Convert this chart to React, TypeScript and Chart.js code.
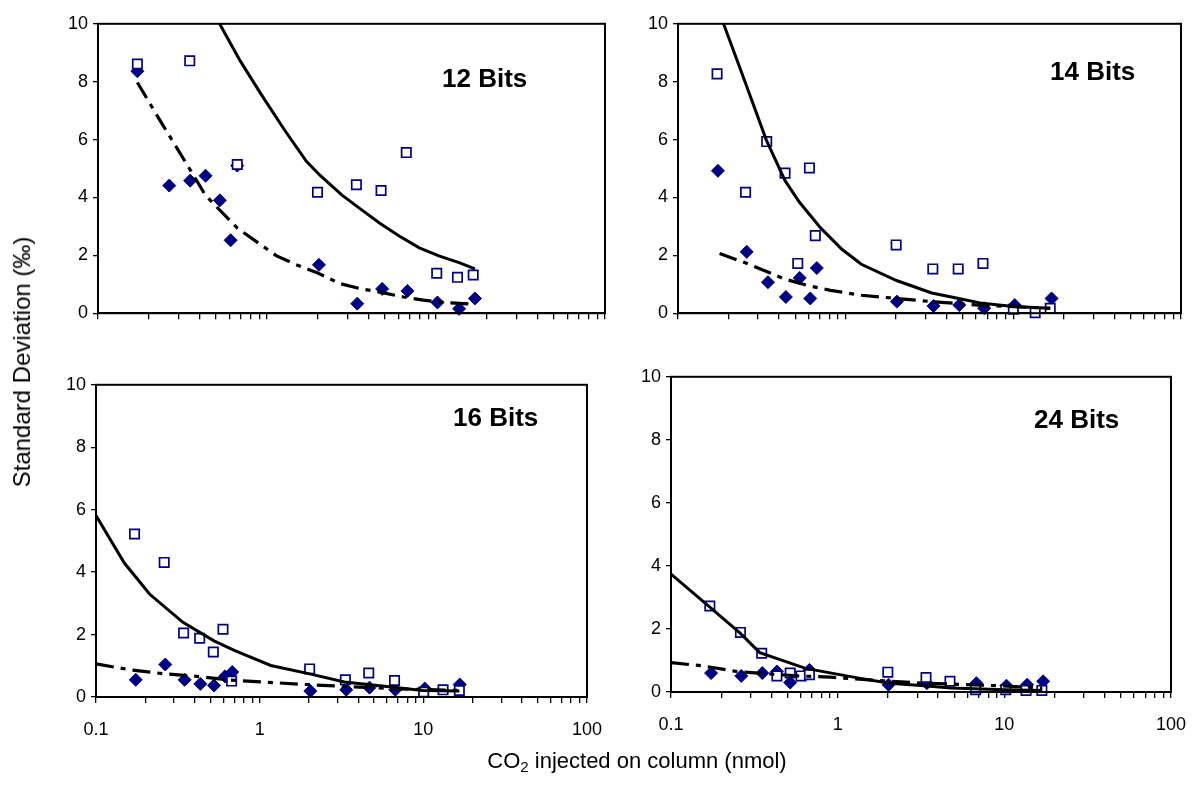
import React, { useEffect, useRef } from "react";
import { Chart, registerables } from "chart.js";

Chart.register(...registerables);

const NAVY = "#000080";
const FONT = "'Liberation Sans', Arial, sans-serif";

// ---------- shared axis values ----------
const X_TICKS = [
  0.1, 0.2, 0.3, 0.4, 0.5, 0.6, 0.7, 0.8, 0.9,
  1, 2, 3, 4, 5, 6, 7, 8, 9,
  10, 20, 30, 40, 50, 60, 70, 80, 90, 100,
];
const X_LABELS = [0.1, 1, 10, 100];
const Y_TICKS = [0, 2, 4, 6, 8, 10];

// ---------- 12 Bits ----------
const P12_SQ_X = [0.171, 0.349, 0.667, 1.99, 3.38, 4.73, 6.67, 10.1, 13.4, 16.6];
const P12_SQ_Y = [8.61, 8.72, 5.14, 4.18, 4.44, 4.24, 5.55, 1.38, 1.24, 1.32];
const P12_DI_X = [0.171, 0.264, 0.351, 0.433, 0.526, 0.609, 0.667, 2.03, 3.42, 4.8, 6.78, 10.2, 13.7, 17.0];
const P12_DI_Y = [8.36, 4.41, 4.58, 4.75, 3.9, 2.52, 5.1, 1.67, 0.33, 0.84, 0.77, 0.37, 0.15, 0.51];
const P12_SOLID_X = [0.524, 0.697, 0.922, 1.27, 1.71, 2.07, 2.79, 3.65, 4.65, 6.09, 7.97, 10.4, 13.7, 17.0];
const P12_SOLID_Y = [10, 8.7, 7.57, 6.33, 5.25, 4.75, 4.07, 3.56, 3.11, 2.66, 2.26, 1.98, 1.75, 1.53];
const P12_DASH_X = [0.171, 0.239, 0.331, 0.433, 0.667, 1.14, 1.47, 1.96, 2.71, 3.55, 4.65, 6.43, 8.41, 11.6, 16.1];
const P12_DASH_Y = [7.97, 6.55, 5.2, 4.07, 2.94, 1.98, 1.69, 1.41, 1.02, 0.85, 0.73, 0.56, 0.45, 0.36, 0.32];

// ---------- 14 Bits ----------
const P14_SQ_X = [0.171, 0.253, 0.338, 0.435, 0.608, 0.518, 0.659, 2.0, 3.31, 4.69, 6.59, 10.0, 13.5, 16.6];
const P14_SQ_Y = [8.27, 4.18, 5.93, 4.84, 5.02, 1.72, 2.68, 2.36, 1.53, 1.53, 1.72, 0.14, 0.02, 0.17];
const P14_DI_X = [0.173, 0.257, 0.344, 0.44, 0.532, 0.615, 0.673, 2.02, 3.34, 4.76, 6.7, 10.2, 16.9];
const P14_DI_Y = [4.92, 2.12, 1.07, 0.56, 1.22, 0.51, 1.56, 0.4, 0.25, 0.28, 0.17, 0.28, 0.51];
const P14_SOLID_X = [0.187, 0.25, 0.336, 0.435, 0.529, 0.711, 0.953, 1.24, 2.01, 3.26, 4.73, 6.52, 10.0, 16.6];
const P14_SOLID_Y = [10, 8.02, 5.99, 4.58, 3.84, 2.94, 2.2, 1.69, 1.13, 0.7, 0.51, 0.34, 0.23, 0.17];
const P14_DASH_X = [0.177, 0.25, 0.31, 0.428, 0.589, 0.813, 1.24, 2.01, 3.26, 6.18, 16.6];
const P14_DASH_Y = [2.06, 1.75, 1.53, 1.19, 0.96, 0.79, 0.62, 0.51, 0.4, 0.28, 0.17];

// ---------- 16 Bits ----------
const P16_SQ_X = [0.172, 0.261, 0.343, 0.43, 0.521, 0.597, 0.674, 2.02, 3.34, 4.64, 6.67, 10.05, 13.2, 16.6];
const P16_SQ_Y = [5.22, 4.31, 2.05, 1.88, 1.44, 2.17, 0.51, 0.9, 0.55, 0.77, 0.53, 0.16, 0.23, 0.21];
const P16_DI_X = [0.175, 0.265, 0.348, 0.434, 0.526, 0.613, 0.68, 2.04, 3.38, 4.69, 6.74, 10.2, 16.7];
const P16_DI_Y = [0.55, 1.04, 0.55, 0.42, 0.37, 0.66, 0.8, 0.19, 0.23, 0.3, 0.23, 0.27, 0.4];
const P16_SOLID_X = [0.1, 0.149, 0.213, 0.34, 0.526, 0.711, 1.17, 2.02, 3.3, 6.38, 9.89, 16.6];
const P16_SOLID_Y = [5.81, 4.29, 3.29, 2.39, 1.8, 1.48, 1.01, 0.74, 0.48, 0.32, 0.21, 0.19];
const P16_DASH_X = [0.1, 0.162, 0.265, 0.411, 0.638, 1.04, 1.91, 3.3, 6.38, 16.6];
const P16_DASH_Y = [1.06, 0.87, 0.74, 0.66, 0.55, 0.48, 0.4, 0.34, 0.27, 0.21];

// ---------- 24 Bits ----------
const P24_SQ_X = [0.171, 0.261, 0.35, 0.432, 0.519, 0.603, 0.677, 2.0, 3.39, 4.72, 6.73, 10.2, 13.5, 16.8];
const P24_SQ_Y = [2.73, 1.89, 1.23, 0.51, 0.6, 0.51, 0.55, 0.63, 0.46, 0.34, 0.07, 0.07, 0.05, 0.05];
const P24_DI_X = [0.174, 0.264, 0.353, 0.432, 0.519, 0.677, 2.02, 3.43, 6.8, 10.3, 13.7, 17.1];
const P24_DI_Y = [0.6, 0.51, 0.6, 0.65, 0.3, 0.7, 0.23, 0.28, 0.28, 0.2, 0.23, 0.34];
const P24_SOLID_X = [0.1, 0.171, 0.261, 0.341, 0.642, 1.34, 2.05, 3.3, 4.77, 10.0, 16.9];
const P24_SOLID_Y = [3.74, 2.69, 1.86, 1.25, 0.75, 0.44, 0.28, 0.2, 0.13, 0.07, 0.05];
const P24_DASH_X = [0.1, 0.154, 0.248, 0.378, 0.577, 0.904, 2.05, 3.3, 9.0, 16.9];
const P24_DASH_Y = [0.93, 0.83, 0.65, 0.58, 0.51, 0.47, 0.34, 0.28, 0.2, 0.13];

const zip = (xs: number[], ys: number[]) => xs.map((x, i) => ({ x, y: ys[i] }));

type Panel = {
  title: string;
  sqX: number[]; sqY: number[];
  diX: number[]; diY: number[];
  solX: number[]; solY: number[];
  dashX: number[]; dashY: number[];
  left: number; top: number; right: number; bottom: number;
  showX: boolean;
  titleLeft: number; titleCy: number;
};

const PANELS: Panel[] = [
  {
    title: "12 Bits",
    sqX: P12_SQ_X, sqY: P12_SQ_Y, diX: P12_DI_X, diY: P12_DI_Y,
    solX: P12_SOLID_X, solY: P12_SOLID_Y, dashX: P12_DASH_X, dashY: P12_DASH_Y,
    left: 98, top: 22, right: 605, bottom: 317, showX: false,
    titleLeft: 442, titleCy: 78,
  },
  {
    title: "14 Bits",
    sqX: P14_SQ_X, sqY: P14_SQ_Y, diX: P14_DI_X, diY: P14_DI_Y,
    solX: P14_SOLID_X, solY: P14_SOLID_Y, dashX: P14_DASH_X, dashY: P14_DASH_Y,
    left: 678, top: 22, right: 1181, bottom: 317, showX: false,
    titleLeft: 1050, titleCy: 71,
  },
  {
    title: "16 Bits",
    sqX: P16_SQ_X, sqY: P16_SQ_Y, diX: P16_DI_X, diY: P16_DI_Y,
    solX: P16_SOLID_X, solY: P16_SOLID_Y, dashX: P16_DASH_X, dashY: P16_DASH_Y,
    left: 96, top: 383, right: 594, bottom: 697, showX: true,
    titleLeft: 453, titleCy: 417,
  },
  {
    title: "24 Bits",
    sqX: P24_SQ_X, sqY: P24_SQ_Y, diX: P24_DI_X, diY: P24_DI_Y,
    solX: P24_SOLID_X, solY: P24_SOLID_Y, dashX: P24_DASH_X, dashY: P24_DASH_Y,
    left: 671, top: 375, right: 1178, bottom: 692, showX: true,
    titleLeft: 1034, titleCy: 419,
  },
];

const YW = 62;
const PT = 14;
const PR = 24;
const XH_LABELS = 54;
const XH_NOLABELS = 12;

const framePlugin = {
  id: "frame",
  afterDraw(chart: any) {
    const { ctx, chartArea } = chart;
    ctx.save();
    ctx.strokeStyle = "#000";
    ctx.lineWidth = 2;
    ctx.strokeRect(chartArea.left, chartArea.top, chartArea.right - chartArea.left, chartArea.bottom - chartArea.top);
    ctx.restore();
  },
};

function PanelChart({ p }: { p: Panel }) {
  const ref = useRef<HTMLCanvasElement | null>(null);
  const xh = p.showX ? XH_LABELS : XH_NOLABELS;
  const w = YW + (p.right - p.left) + PR;
  const h = PT + (p.bottom - p.top) + xh;

  useEffect(() => {
    if (!ref.current) return;
    const chart = new Chart(ref.current, {
      type: "scatter",
      data: {
        datasets: [
          {
            label: "solid",
            data: zip(p.solX, p.solY),
            showLine: true,
            borderColor: "#000",
            borderWidth: 3,
            pointRadius: 0,
            tension: 0,
            order: 0,
          },
          {
            label: "dash",
            data: zip(p.dashX, p.dashY),
            showLine: true,
            borderColor: "#000",
            borderWidth: 3.2,
            borderDash: [18, 7, 5, 7],
            pointRadius: 0,
            tension: 0,
            order: 1,
          },
          {
            label: "open",
            data: zip(p.sqX, p.sqY),
            pointStyle: "rect",
            pointRadius: 6.6,
            borderColor: NAVY,
            backgroundColor: "#fff",
            borderWidth: 1.7,
            showLine: false,
            clip: false,
            order: 2,
          },
          {
            label: "filled",
            data: zip(p.diX, p.diY),
            pointStyle: "rectRot",
            pointRadius: 6.5,
            borderColor: NAVY,
            backgroundColor: NAVY,
            borderWidth: 1,
            showLine: false,
            clip: false,
            order: 3,
          },
        ],
      },
      options: {
        animation: false,
        responsive: false,
        maintainAspectRatio: false,
        events: [],
        layout: { padding: { top: PT, right: PR, left: 0, bottom: 0 } },
        plugins: { legend: { display: false }, tooltip: { enabled: false } },
        scales: {
          x: {
            type: "logarithmic",
            position: "bottom",
            min: 0.1,
            max: 100,
            afterBuildTicks: (s: any) => {
              s.ticks = X_TICKS.map((v) => ({ value: v }));
            },
            afterFit: (s: any) => {
              s.height = xh;
            },
            grid: {
              drawOnChartArea: false,
              drawTicks: true,
              tickLength: 6,
              color: "#000",
              lineWidth: 1.3,
            },
            border: { display: true, color: "#000", width: 2 },
            ticks: {
              autoSkip: false,
              maxRotation: 0,
              minRotation: 0,
              padding: 16,
              color: "#000",
              font: { family: FONT, size: 18 },
              callback: (v: any) => {
                if (!p.showX) return "";
                const n = Number(v);
                return X_LABELS.some((m) => Math.abs(m - n) < 1e-9) ? String(n) : "";
              },
            },
          },
          y: {
            type: "linear",
            position: "left",
            min: 0,
            max: 10,
            afterBuildTicks: (s: any) => {
              s.ticks = Y_TICKS.map((v) => ({ value: v }));
            },
            afterFit: (s: any) => {
              s.width = YW;
            },
            grid: {
              drawOnChartArea: false,
              drawTicks: true,
              tickLength: 5,
              color: "#000",
              lineWidth: 1.3,
            },
            border: { display: true, color: "#000", width: 2 },
            ticks: {
              padding: 5,
              color: "#000",
              font: { family: FONT, size: 18 },
              callback: (v: any) => String(v),
            },
          },
        },
      },
      plugins: [framePlugin],
    } as any);
    return () => chart.destroy();
  }, []);

  return (
    <canvas
      ref={ref}
      width={w}
      height={h}
      style={{
        position: "absolute",
        left: p.left - YW,
        top: p.top - PT,
        width: w,
        height: h,
      }}
    />
  );
}

export default function App() {
  return (
    <div
      style={{
        position: "absolute",
        left: 0,
        top: 0,
        width: 1197,
        height: 799,
        background: "#fff",
        overflow: "hidden",
        fontFamily: FONT,
      }}
    >
      {PANELS.map((p) => (
        <PanelChart key={p.title} p={p} />
      ))}
      {PANELS.map((p) => (
        <div
          key={p.title + "-t"}
          style={{
            position: "absolute",
            left: p.titleLeft,
            top: p.titleCy - 13,
            fontSize: 26,
            lineHeight: "26px",
            fontWeight: "bold",
            color: "#000",
            whiteSpace: "nowrap",
          }}
        >
          {p.title}
        </div>
      ))}
      <div
        style={{
          position: "absolute",
          left: 22,
          top: 362,
          transform: "translate(-50%, -50%) rotate(-90deg)",
          fontSize: 24,
          lineHeight: "24px",
          whiteSpace: "nowrap",
          color: "#000",
        }}
      >
        Standard Deviation (‰)
      </div>
      <div
        style={{
          position: "absolute",
          left: 637,
          top: 761,
          transform: "translate(-50%, -50%)",
          fontSize: 22,
          lineHeight: "22px",
          whiteSpace: "nowrap",
          color: "#000",
        }}
      >
        CO<sub style={{ fontSize: 15, verticalAlign: "-4px", lineHeight: 0 }}>2</sub> injected on column (nmol)
      </div>
    </div>
  );
}
